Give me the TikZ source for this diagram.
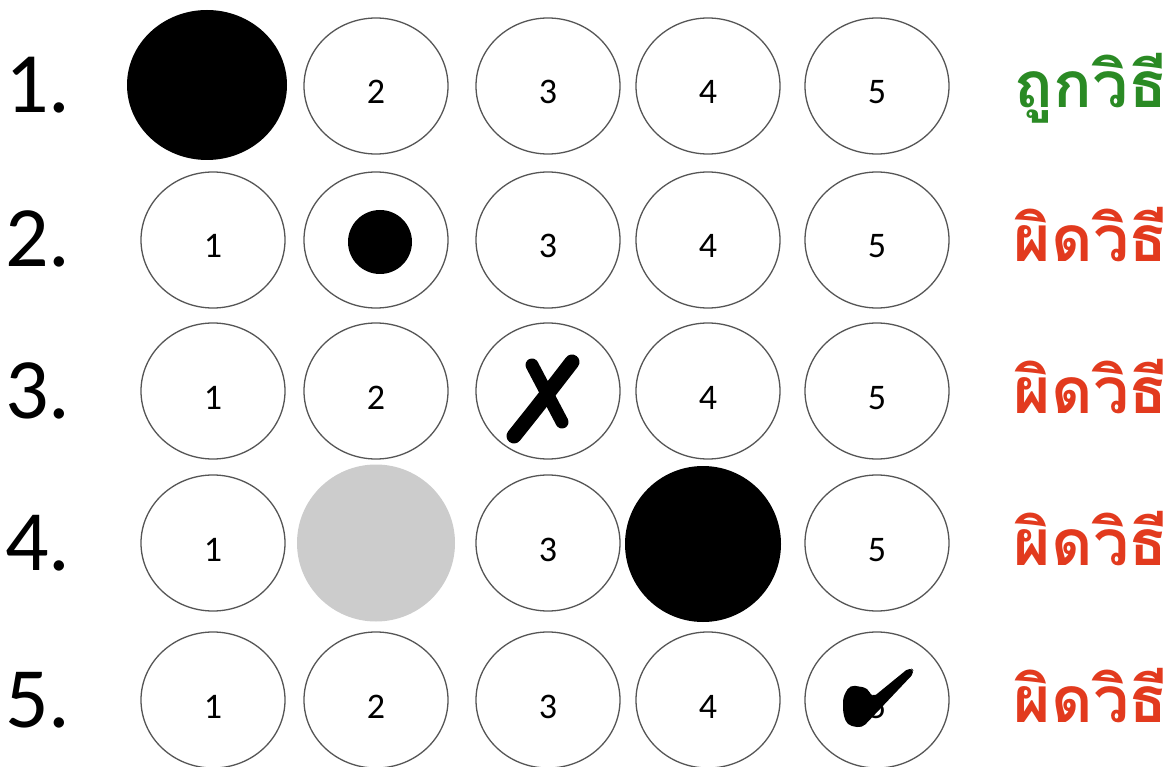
\documentclass[tikz,border=0pt]{standalone}
\usepackage{fontspec}
\setmainfont{Carlito}
\newfontfamily\thaifont[Script=Thai]{Loma}
\usepackage{tikz}
\usetikzlibrary{shapes.geometric,calc}
\definecolor{RightGreen}{HTML}{2A8A24}
\definecolor{WrongRed}{HTML}{E23A1E}
\definecolor{EdgeGray}{HTML}{555555}
\definecolor{FadeGray}{HTML}{CCCCCC}

\begin{document}
\begin{tikzpicture}[x=1pt,y=-1pt,
    bub/.style={ellipse,draw=EdgeGray,line width=1.3pt,fill=white,
               minimum width=144pt,minimum height=136pt,inner sep=0pt},
    blot/.style={ellipse,fill=#1,inner sep=0pt},
    dg/.style={font=\fontsize{36}{36}\selectfont,anchor=base,inner sep=0pt},
    rowlab/.style={font=\fontsize{86}{86}\selectfont,anchor=base west,inner sep=0pt},
    th/.style={font=\fontsize{64}{64}\thaifont\bfseries,text=#1,anchor=base,inner sep=0pt},
    pen/.style={line width=13pt,line cap=round,line join=round}]
\path[use as bounding box,fill=white] (0,0) rectangle (1173,767);
\def\colx{{213,376,548,708,877}}
\foreach \r/\y/\cols in {1/86/{2,3,4,5},2/240/{1,2,3,4,5},3/391/{1,2,3,4,5},
                         4/543/{1,3,5},5/700/{1,2,3,4,5}}{
  \node[rowlab] (n\r) at (5,\y+27) {\r.};
  \foreach \c in \cols{
    \pgfmathsetmacro\x{\colx[\c-1]}
    \node[bub] (b-\r-\c) at (\x,\y) {};}}
\foreach \r/\cols in {1/{2,3,4,5},2/{1,3,4,5},3/{1,2,4,5},4/{1,3,5},5/{1,2,3,4,5}}{
  \foreach \c in \cols{
    \node[dg] (d-\r-\c) at ([yshift=-18pt]b-\r-\c.center) {\c};}}
\node[blot=black,minimum width=160pt,minimum height=150pt] (f-1-1) at (207,85) {};
\node[blot=black,minimum width=64pt,minimum height=64pt] (f-2-2) at ($(b-2-2)+(4,2)$) {};
\node[blot=FadeGray,minimum width=158pt,minimum height=157pt] (f-4-2) at (376,543) {};
\node[blot=black,minimum width=156pt,minimum height=156pt] (f-4-4) at (703,544) {};
\begin{scope}[shift={(b-3-3.center)}]
\draw[pen,line width=15pt] (-34,45) .. controls (-10,15) .. (24,-29);
\draw[pen] (-16,-26) -- (14,31);
\end{scope}
\begin{scope}[shift={(b-5-5.center)}]
\fill[rounded corners=5pt] (-34,-3) -- (-27,-15) -- (-9,-12) -- (-5,-2) -- (33,-33)
  -- (38,-28) -- (-15,28) -- (-30,25) -- (-34,13) -- cycle;
\end{scope}
\node[th=RightGreen] (v1) at (1091,108) {ถูกวิธี};
\foreach \r/\y in {2/240,3/391,4/543,5/700}
  \node[th=WrongRed] (v\r) at (1091,\y+22) {ผิดวิธี};
\end{tikzpicture}
\end{document}
